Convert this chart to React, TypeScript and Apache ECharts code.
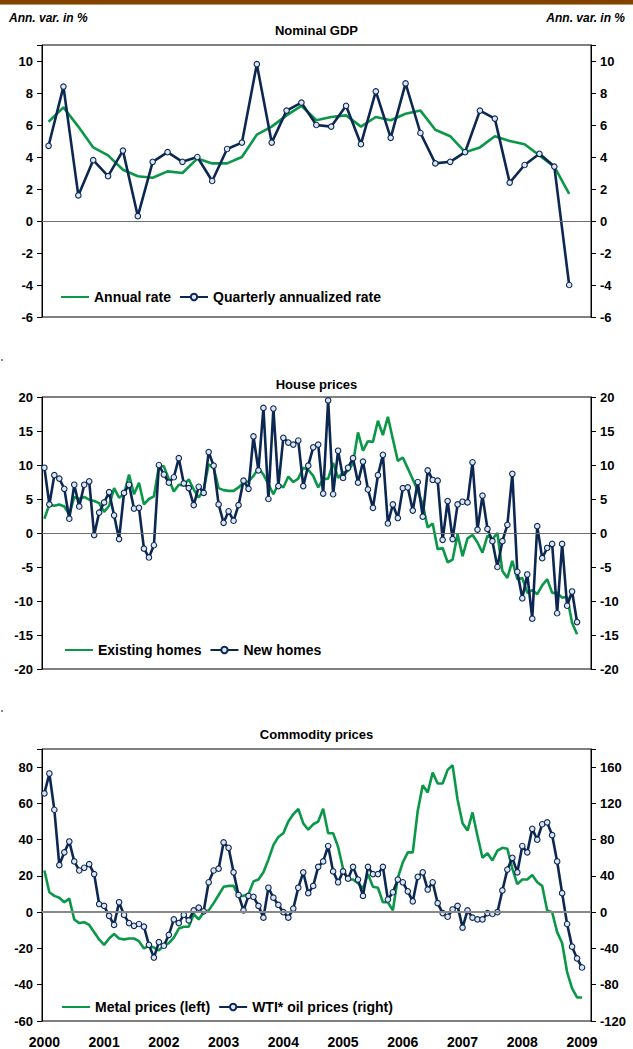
import React, { useEffect, useRef } from "react";
import * as echarts from "echarts";

// ---------- Data ----------
const yearLabels = [2000, 2001, 2002, 2003, 2004, 2005, 2006, 2007, 2008, 2009];

// Nominal GDP, quarterly 2000Q1 - 2008Q4
const gdpAnnual = [6.2, 7.1, 5.9, 4.6, 4.1, 3.2, 2.8, 2.7, 3.1, 3.0, 3.9, 3.6, 3.6, 4.0, 5.4, 5.9, 6.6, 7.2, 6.3, 6.5, 6.6, 5.9, 6.5, 6.3, 6.7, 6.9, 5.7, 5.3, 4.3, 4.6, 5.3, 5.0, 4.8, 4.1, 3.4, 1.7];
const gdpQuarterly = [4.7, 8.4, 1.6, 3.8, 2.8, 4.4, 0.3, 3.7, 4.3, 3.7, 4.0, 2.5, 4.5, 4.9, 9.8, 4.9, 6.9, 7.4, 6.0, 5.9, 7.2, 4.8, 8.1, 5.2, 8.6, 5.5, 3.6, 3.7, 4.3, 6.9, 6.4, 2.4, 3.5, 4.2, 3.4, -4.0];

// House prices, monthly Jan 2000 - Dec 2008
const existingHomes = [2.1, 4.2, 4.0, 4.2, 3.9, 2.7, 5.3, 5.0, 5.3, 4.9, 4.7, 4.4, 3.1, 4.0, 6.6, 5.2, 5.7, 8.6, 5.7, 7.4, 4.2, 5.0, 5.4, 9.8, 9.8, 7.9, 6.1, 7.1, 7.0, 7.9, 6.4, 5.2, 6.4, 10.1, 9.6, 6.6, 6.3, 6.2, 6.2, 6.7, 7.4, 7.6, 8.4, 9.5, 8.6, 7.2, 5.7, 7.2, 6.7, 8.3, 7.5, 8.0, 9.6, 9.3, 8.4, 6.7, 7.9, 8.0, 10.3, 8.1, 8.9, 9.1, 10.3, 14.8, 12.1, 13.5, 13.4, 16.5, 14.4, 17.1, 13.8, 10.6, 11.1, 9.5, 7.9, 6.2, 4.2, 0.8, 1.4, -2.4, -2.2, -4.3, -3.9, -0.2, -3.4, -0.8, -0.3, -1.4, -2.9, -0.4, -0.9, 0.0, -5.6, -6.6, -4.1, -6.8, -6.6, -8.8, -8.4, -9.0, -7.7, -6.8, -8.8, -8.8, -9.5, -9.4, -13.2, -14.9];
const newHomes = [9.6, 4.2, 8.5, 8.0, 6.5, 2.1, 7.1, 3.9, 7.1, 7.6, -0.3, 3.0, 4.5, 6.0, 2.6, -0.9, 5.9, 7.1, 3.6, 3.7, -2.3, -3.6, -1.8, 10.0, 8.6, 7.4, 8.2, 11.0, 7.3, 6.6, 4.1, 6.8, 5.9, 11.9, 9.9, 4.2, 1.5, 3.2, 1.8, 4.1, 7.7, 6.5, 14.2, 9.2, 18.4, 5.0, 18.3, 6.9, 14.0, 13.3, 13.0, 13.6, 6.9, 9.9, 12.6, 13.0, 5.8, 19.5, 5.7, 12.1, 8.1, 9.6, 11.0, 7.4, 10.5, 6.4, 3.7, 8.5, 11.5, 1.4, 4.2, 2.2, 6.6, 6.7, 3.3, 7.5, 2.4, 9.2, 7.8, 7.7, -1.0, 4.7, -0.9, 4.2, 4.6, 4.5, 10.4, 0.5, 5.5, 0.6, -1.2, -5.0, -1.2, 1.2, 8.7, -5.7, -9.6, -6.1, -12.6, 1.0, -3.7, -2.2, -1.6, -11.8, -1.6, -10.7, -8.6, -13.1];

// Commodity prices, monthly Jan 2000 - Jan 2009
const metalPrices = [23, 11, 9, 8, 5.5, 7.5, -4, -6, -5.5, -7, -11, -15, -18, -14.5, -12, -14.5, -15, -14.5, -14.5, -16, -20, -18.5, -19.5, -21, -18.5, -17, -14, -9, -8, -8, -1, -4, 0, 1, 5, 9.5, 14, 14.5, 14.5, 9, 9, 10, 17, 18, 22, 29, 37, 41.5, 43.5, 50, 54, 57, 49, 45.5, 48.5, 50, 57, 43.5, 43.5, 36, 24, 18, 18, 16, 13, 21, 14, 13.5, 5.5, 5.5, 1, 19, 27.5, 33, 33, 56, 70, 66, 77, 71, 71, 78.5, 81, 62, 49, 45, 55, 42, 30, 32.5, 28.5, 34, 35.5, 35, 24, 15.5, 18, 18, 20.5, 16.5, 14.5, 1, 0, -11, -17, -33, -42, -47, -47];
const wtiPrices = [131, 153, 113, 52, 66, 78, 56, 46, 49, 53, 42, 9, 7, -4, -14, 11, -3, -12, -15, -13, -16, -36, -50, -33, -37, -25, -8, -12, -3, -9, 2, 5, 1, 33, 46, 48, 77, 71, 44, 19, 2, 18, 17, 7, -6, 27, 16, 8, 0, -6, 4, 27, 44, 21, 29, 50, 56, 73, 45, 33, 45, 37, 50, 36, 18, 50, 42, 42, 50, 14, 22, 36, 33, 23, 12, 39, 44, 25, 33, 10, -1, -5, 3, 7, -17, 2, -6, -8, -8, -1, -2, 0, 24, 47, 60, 44, 73, 66, 92, 80, 97, 99, 85, 56, 21, -13, -38, -51, -61];

// ---------- Time positions (decimal years) ----------
const START_YEAR = 2000;
const monthX = (i: number) => START_YEAR + i / 12;
const quarterX = (i: number) => START_YEAR + 0.07 + i * 0.249;

const GREEN = "#0a9748";
const NAVY = "#0c2752";
const MARKER_FILL = "#dde7f3";
const FONT = "'Liberation Sans', Arial, sans-serif";

const X_MIN = 1999.96;
const X_MAX = 2009.15;

function App() {
  const ref = useRef<HTMLDivElement>(null);

  useEffect(() => {
    if (!ref.current) return;
    const chart = echarts.init(ref.current, null, { renderer: "svg" });

    const tickLabel = {
      color: "#000",
      fontFamily: FONT,
      fontWeight: "bold" as const,
      fontSize: 13,
      margin: 9,
    };

    const yAxisBase = (grid: number, pos: "left" | "right", min: number, max: number, interval: number, hideAbove: number) => ({
      type: "value",
      gridIndex: grid,
      position: pos,
      min,
      max,
      interval,
      axisLine: { show: true, lineStyle: { color: "#000", width: 1 } },
      axisTick: { show: true, length: 5, inside: false, lineStyle: { color: "#000" } },
      splitLine: { show: false },
      axisLabel: {
        ...tickLabel,
        formatter: (v: number) => (v > hideAbove ? "" : String(v)),
      },
    });

    const xAxisBase = (grid: number, showLabels: boolean) => ({
      type: "value",
      gridIndex: grid,
      min: X_MIN,
      max: X_MAX,
      axisLine: { show: true, lineStyle: { color: "#000", width: 1 } },
      axisTick: { show: false },
      splitLine: { show: false },
      axisLabel: showLabels
        ? {
            show: true,
            customValues: yearLabels,
            color: "#000",
            fontFamily: FONT,
            fontWeight: "bold",
            fontSize: 14,
            margin: 14,
            formatter: (v: number) => String(Math.round(v)),
          }
        : { show: false },
    });

    const zeroLine = (color: string, width: number) => ({
      silent: true,
      symbol: ["none", "none"],
      label: { show: false },
      lineStyle: { color, width, type: "solid" },
      data: [{ yAxis: 0 }],
      animation: false,
    });

    const markerSeries = {
      symbol: "circle",
      symbolSize: 5.5,
      showSymbol: true,
      itemStyle: { color: MARKER_FILL, borderColor: NAVY, borderWidth: 1.1 },
      lineStyle: { color: NAVY, width: 2.6 },
    };

    const legendText = {
      color: "#000",
      fontFamily: FONT,
      fontWeight: "bold",
      fontSize: 14,
    };

    const legendBase = {
      orient: "horizontal",
      padding: 0,
      itemWidth: 28,
      itemHeight: 8,
      itemGap: 8,
      textStyle: legendText,
      selectedMode: false,
    };

    const plainLine = (name: string) => ({ name, itemStyle: { opacity: 0 } });

    const titleStyle = {
      color: "#000",
      fontFamily: FONT,
      fontWeight: "bold",
      fontSize: 13,
    };

    const option: any = {
      animation: false,
      backgroundColor: "#fff",
      title: [
        { text: "Ann. var. in %", left: 9, top: 12, padding: 0, textStyle: { ...titleStyle, fontSize: 12, fontStyle: "italic" } },
        { text: "Ann. var. in %", right: 8, top: 12, padding: 0, textStyle: { ...titleStyle, fontSize: 12, fontStyle: "italic" } },
        { text: "Nominal GDP", left: "center", top: 24, padding: 0, textStyle: titleStyle },
        { text: "House prices", left: "center", top: 378, padding: 0, textStyle: titleStyle },
        { text: "Commodity prices", left: "center", top: 728, padding: 0, textStyle: titleStyle },
      ],
      graphic: [
        { type: "rect", shape: { x: 0, y: 0, width: 633, height: 4 }, style: { fill: "#824200" }, silent: true },
        { type: "rect", shape: { x: 0, y: 4, width: 633, height: 1 }, style: { fill: "#c8955e" }, silent: true },
        { type: "rect", shape: { x: 1, y: 359, width: 2, height: 2 }, style: { fill: "#888" }, silent: true },
        { type: "rect", shape: { x: 1, y: 710, width: 2, height: 2 }, style: { fill: "#888" }, silent: true },
      ],
      grid: [
        { left: 42, top: 45, width: 549, height: 272, show: true, borderColor: "#000", borderWidth: 1, backgroundColor: "transparent" },
        { left: 42, top: 397, width: 549, height: 272, show: true, borderColor: "#000", borderWidth: 1, backgroundColor: "transparent" },
        { left: 42, top: 749, width: 549, height: 273, show: true, borderColor: "#000", borderWidth: 1, backgroundColor: "transparent" },
      ],
      xAxis: [xAxisBase(0, false), xAxisBase(1, false), xAxisBase(2, true)],
      yAxis: [
        yAxisBase(0, "left", -6, 11, 2, 10),
        yAxisBase(0, "right", -6, 11, 2, 10),
        yAxisBase(1, "left", -20, 20, 5, 20),
        yAxisBase(1, "right", -20, 20, 5, 20),
        yAxisBase(2, "left", -60, 90, 20, 80),
        yAxisBase(2, "right", -120, 180, 40, 160),
      ],
      legend: [
        { ...legendBase, left: 60, top: 290, data: [plainLine("Annual rate"), "Quarterly annualized rate"] },
        { ...legendBase, left: 64, top: 643, data: [plainLine("Existing homes"), "New homes"] },
        { ...legendBase, left: 61, top: 1000, data: [plainLine("Metal prices (left)"), "WTI* oil prices (right)"] },
      ],
      series: [
        {
          name: "Annual rate",
          type: "line",
          xAxisIndex: 0,
          yAxisIndex: 0,
          symbol: "none",
          lineStyle: { color: GREEN, width: 2.6 },
          itemStyle: { color: GREEN },
          data: gdpAnnual.map((v, i) => [quarterX(i), v]),
          markLine: zeroLine("#6e6e6e", 1),
          z: 2,
        },
        {
          name: "Quarterly annualized rate",
          type: "line",
          xAxisIndex: 0,
          yAxisIndex: 0,
          ...markerSeries,
          data: gdpQuarterly.map((v, i) => [quarterX(i), v]),
          z: 3,
        },
        {
          name: "Existing homes",
          type: "line",
          xAxisIndex: 1,
          yAxisIndex: 2,
          symbol: "none",
          lineStyle: { color: GREEN, width: 2.6 },
          itemStyle: { color: GREEN },
          data: existingHomes.map((v, i) => [monthX(i), v]),
          markLine: zeroLine("#6e6e6e", 1),
          z: 2,
        },
        {
          name: "New homes",
          type: "line",
          xAxisIndex: 1,
          yAxisIndex: 2,
          ...markerSeries,
          data: newHomes.map((v, i) => [monthX(i), v]),
          z: 3,
        },
        {
          name: "Metal prices (left)",
          type: "line",
          xAxisIndex: 2,
          yAxisIndex: 4,
          symbol: "none",
          lineStyle: { color: GREEN, width: 2.6 },
          itemStyle: { color: GREEN },
          data: metalPrices.map((v, i) => [monthX(i), v]),
          markLine: zeroLine("#888", 2),
          z: 2,
        },
        {
          name: "WTI* oil prices (right)",
          type: "line",
          xAxisIndex: 2,
          yAxisIndex: 5,
          ...markerSeries,
          data: wtiPrices.map((v, i) => [monthX(i), v]),
          z: 3,
        },
      ],
    };

    chart.setOption(option);
    return () => chart.dispose();
  }, []);

  return (
    <div
      ref={ref}
      style={{ position: "absolute", left: 0, top: 0, width: 633, height: 1049, background: "#fff" }}
    />
  );
}

export default App;
